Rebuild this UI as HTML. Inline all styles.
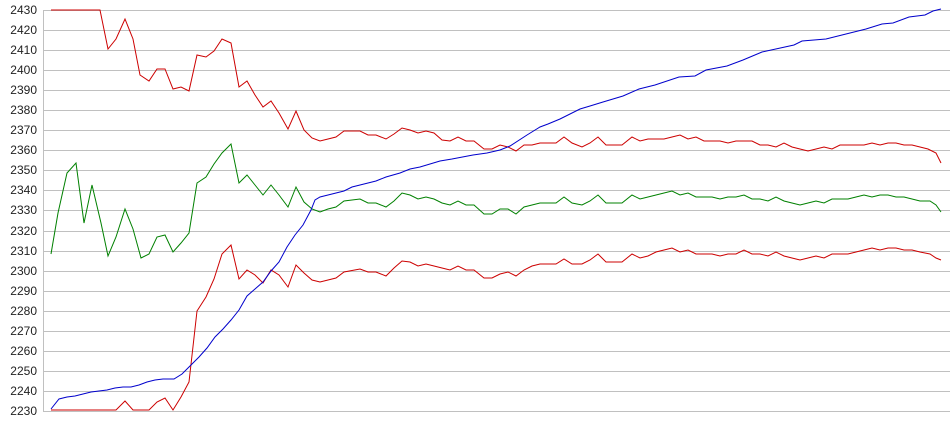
<!DOCTYPE html>
<html><head><meta charset="utf-8"><style>
html,body{margin:0;padding:0;background:#fff;width:950px;height:435px;overflow:hidden}
svg{display:block}
text{font-family:"Liberation Sans",sans-serif;font-size:12px;fill:#222}
</style></head><body>
<svg width="950" height="435" viewBox="0 0 950 435">
<g stroke="#c0c0c0" stroke-width="1">
<line x1="43" y1="10.5" x2="950" y2="10.5"/><line x1="43" y1="30.5" x2="950" y2="30.5"/><line x1="43" y1="50.5" x2="950" y2="50.5"/><line x1="43" y1="70.5" x2="950" y2="70.5"/><line x1="43" y1="90.5" x2="950" y2="90.5"/><line x1="43" y1="110.5" x2="950" y2="110.5"/><line x1="43" y1="130.5" x2="950" y2="130.5"/><line x1="43" y1="150.5" x2="950" y2="150.5"/><line x1="43" y1="170.5" x2="950" y2="170.5"/><line x1="43" y1="190.5" x2="950" y2="190.5"/><line x1="43" y1="210.5" x2="950" y2="210.5"/><line x1="43" y1="231.5" x2="950" y2="231.5"/><line x1="43" y1="251.5" x2="950" y2="251.5"/><line x1="43" y1="271.5" x2="950" y2="271.5"/><line x1="43" y1="291.5" x2="950" y2="291.5"/><line x1="43" y1="311.5" x2="950" y2="311.5"/><line x1="43" y1="331.5" x2="950" y2="331.5"/><line x1="43" y1="351.5" x2="950" y2="351.5"/><line x1="43" y1="371.5" x2="950" y2="371.5"/><line x1="43" y1="391.5" x2="950" y2="391.5"/><line x1="43" y1="411.5" x2="950" y2="411.5"/>
<line x1="43.5" y1="10" x2="43.5" y2="412"/>
</g>
<g text-anchor="end">
<text x="37" y="14">2430</text><text x="37" y="34">2420</text><text x="37" y="54">2410</text><text x="37" y="74">2400</text><text x="37" y="94">2390</text><text x="37" y="114">2380</text><text x="37" y="134">2370</text><text x="37" y="154">2360</text><text x="37" y="174">2350</text><text x="37" y="194">2340</text><text x="37" y="214">2330</text><text x="37" y="235">2320</text><text x="37" y="255">2310</text><text x="37" y="275">2300</text><text x="37" y="295">2290</text><text x="37" y="315">2280</text><text x="37" y="335">2270</text><text x="37" y="355">2260</text><text x="37" y="375">2250</text><text x="37" y="395">2240</text><text x="37" y="415">2230</text>
</g>
<g fill="none" stroke-width="1">
<polyline stroke="#cc0000" points="51,10 100,10 108,49 116,39 125,19 133,39 140,75 149,81 157,69 165,69 173,89 181,87 189,91 197,55 206,57 214,51 222,39 231,43 239,87 247,81 255,95 263,107 271,101 279,113 288,129 296,111 304,130 312,138 320,141 328,139 336,137 344,131 360,131 368,135 376,135 386,139 394,134 402,128 410,130 418,133 426,131 434,133 442,140 450,141 458,137 466,141 474,141 484,149 492,149 500,145 508,147 516,151 524,145 532,145 540,143 556,143 564,137 572,143 582,147 590,143 598,137 606,145 622,145 632,137 640,141 648,139 656,139 664,139 672,137 680,135 688,139 696,137 704,141 720,141 728,143 736,141 752,141 760,145 768,145 776,147 784,143 792,147 800,149 808,151 816,149 824,147 832,149 840,145 864,145 872,143 880,145 888,143 896,143 904,145 912,145 920,147 928,149 936,153 941,163"/>
<polyline stroke="#008000" points="51,254 58,213 67,173 76,163 84,223 92,185 101,223 108,256 116,237 125,209 133,229 141,258 149,254 157,237 165,235 173,252 181,243 189,233 197,183 206,177 214,164 222,153 231,144 239,183 247,175 255,185 263,195 271,185 279,195 288,207 296,187 304,202 312,209 320,212 328,209 336,207 344,201 360,199 368,203 376,203 386,207 394,201 402,193 410,195 418,199 426,197 434,199 442,203 450,205 458,201 466,205 474,205 484,214 492,214 500,209 508,209 516,214 524,207 532,205 540,203 556,203 564,197 572,203 582,205 590,201 598,195 606,203 622,203 632,195 640,199 648,197 656,195 664,193 672,191 680,195 688,193 696,197 712,197 720,199 728,197 736,197 744,195 752,199 760,199 768,201 776,197 784,201 792,203 800,205 808,203 816,201 824,203 832,199 848,199 856,197 864,195 872,197 880,195 888,195 896,197 904,197 912,199 920,201 930,201 936,205 941,212"/>
<polyline stroke="#cc0000" points="51,410 116,410 125,401 133,410 149,410 157,402 165,398 173,410 181,397 189,382 197,311 206,297 214,279 222,254 231,245 239,279 247,270 255,275 263,283 271,270 279,275 288,287 296,265 304,273 312,280 320,282 328,280 336,278 344,272 360,269 368,272 376,272 386,276 394,268 402,261 410,262 418,266 426,264 434,266 442,268 450,270 458,266 466,270 474,270 484,278 492,278 500,274 508,272 516,276 524,270 532,266 540,264 556,264 564,259 572,264 582,264 590,260 598,254 606,262 622,262 632,254 640,258 648,256 656,252 664,250 672,248 680,252 688,250 696,254 712,254 720,256 728,254 736,254 744,250 752,254 760,254 768,256 776,252 784,256 792,258 800,260 808,258 816,256 824,258 832,254 848,254 856,252 864,250 872,248 880,250 888,248 896,248 904,250 912,250 920,252 930,254 936,258 941,260"/>
<polyline stroke="#0000cc" points="51,409 59,399 67,397 75,396 83,394 91,392 99,391 107,390 115,388 123,387 131,387 139,385 147,382 155,380 163,379 174,379 182,374 190,366 199,357 207,348 215,337 223,329 231,320 239,310 247,296 255,289 263,282 271,271 279,262 287,247 295,235 303,225 311,210 315,200 320,197 328,195 344,191 352,187 360,185 376,181 386,177 400,173 410,169 420,167 440,161 452,159 473,155 487,153 500,150 510,146 527,135 540,127 548,124 560,119 580,109 590,106 603,102 623,96 639,89 655,85 679,77 695,76 706,70 727,66 743,60 762,52 794,45 802,41 826,39 866,29 882,24 893,23 909,17 925,15 933,11 941,9"/>
</g>
</svg>
</body></html>
